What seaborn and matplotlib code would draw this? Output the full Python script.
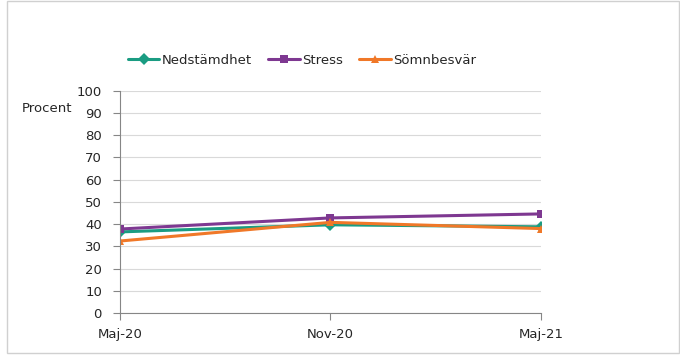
import pandas as pd
import matplotlib.pyplot as plt
import seaborn as sns

# Andel (procent) per mätomgång
perioder = ['Maj-20', 'Nov-20', 'Maj-21']
nedstamdhet = [36.5, 39.7, 38.8]
stress = [37.8, 42.8, 44.6]
somnbesvar = [32.4, 40.8, 38.0]

serier = ['Nedstämdhet', 'Stress', 'Sömnbesvär']
farger = ['#1a9c82', '#7e3891', '#f07828']
markorer = ['D', 's', '^']

df = pd.DataFrame({
    'period': perioder * 3,
    'x': list(range(len(perioder))) * 3,
    'serie': [s for s in serier for _ in perioder],
    'procent': nedstamdhet + stress + somnbesvar,
})

sns.set_style('white')
plt.rcParams['font.family'] = ['DejaVu Sans']

fig = plt.figure(figsize=(6.8, 3.6), dpi=100)
ax = fig.add_axes([0.1765, 0.1306, 0.619, 0.617])

sns.lineplot(data=df, x='x', y='procent', hue='serie', style='serie',
             palette=dict(zip(serier, farger)),
             markers=dict(zip(serier, markorer)), dashes=False,
             linewidth=2.2, markersize=6, markeredgewidth=0, ax=ax)

ax.set_xlim(0, 2)
ax.set_ylim(0, 100)
ax.set_yticks(range(0, 101, 10))
ax.set_xticks(range(len(perioder)))
ax.set_xticklabels(perioder)
ax.set_xlabel('')
ax.set_ylabel('')
ax.yaxis.grid(True, color='#d9d9d9', linewidth=0.8)
ax.set_axisbelow(True)
for side in ['top', 'right']:
    ax.spines[side].set_visible(False)
for side in ['left', 'bottom']:
    ax.spines[side].set_color('#868686')
ax.tick_params(axis='both', length=5, color='#868686', labelsize=9.5,
               direction='out', left=True, bottom=True)
ax.tick_params(axis='y', pad=8)
ax.tick_params(axis='x', pad=6)

fig.text(0.032, 0.70, 'Procent', fontsize=9.5, va='center')

leg = ax.legend(loc='lower left', bbox_to_anchor=(-0.01, 1.055), ncol=3,
                frameon=False, fontsize=9.5, handlelength=2.4,
                columnspacing=1.2, handletextpad=0.2)

fig.patches.append(plt.Rectangle((0.01, 0.02), 0.988, 0.977,
                                 transform=fig.transFigure, fill=False,
                                 edgecolor='#d0d0d0', linewidth=1))

fig.savefig('out.png', dpi=100)
